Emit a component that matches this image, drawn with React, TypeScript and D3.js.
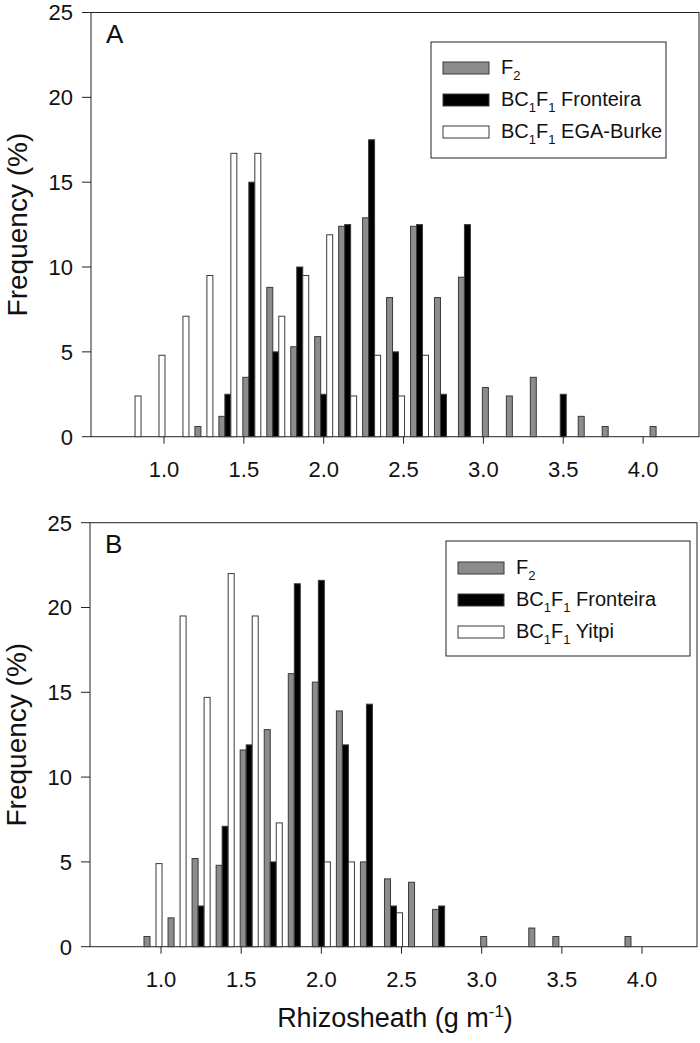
import React from "react";
import * as d3 from "d3";

// Bin centres (g m-1) — shared by both panels
const bins = [0.8, 0.95, 1.1, 1.25, 1.4, 1.55, 1.7, 1.85, 2.0, 2.15, 2.3, 2.45, 2.6, 2.75, 2.9, 3.05, 3.2, 3.35, 3.5, 3.65, 3.8, 3.95, 4.1];

// Panel A
const f2A = [0, 0, 0, 0.6, 1.2, 3.5, 8.8, 5.3, 5.9, 12.4, 12.9, 8.2, 12.4, 8.2, 9.4, 2.9, 2.4, 3.5, 0, 1.2, 0.6, 0, 0.6];
const fronteiraA = [0, 0, 0, 0, 2.5, 15, 5, 10, 2.5, 12.5, 17.5, 5, 12.5, 2.5, 12.5, 0, 0, 0, 2.5, 0, 0, 0, 0];
const egaBurkeA = [2.4, 4.8, 7.1, 9.5, 16.7, 16.7, 7.1, 9.5, 11.9, 2.4, 4.8, 2.4, 4.8, 0, 0, 0, 0, 0, 0, 0, 0, 0, 0];

// Panel B
const f2B = [0, 0.6, 1.7, 5.2, 4.8, 11.6, 12.8, 16.1, 15.6, 13.9, 5.0, 4.0, 3.8, 2.2, 0, 0.6, 0, 1.1, 0.6, 0, 0, 0.6, 0];
const fronteiraB = [0, 0, 0, 2.4, 7.1, 11.9, 5.0, 21.4, 21.6, 11.9, 14.3, 2.4, 0, 2.4, 0, 0, 0, 0, 0, 0, 0, 0, 0];
const yitpiB = [0, 4.9, 19.5, 14.7, 22.0, 19.5, 7.3, 0, 5.0, 5.0, 0, 2.0, 0, 0, 0, 0, 0, 0, 0, 0, 0, 0, 0];

const xTicks = [1.0, 1.5, 2.0, 2.5, 3.0, 3.5, 4.0];
const yTicks = [0, 5, 10, 15, 20, 25];

const FONT = "'Liberation Sans', Arial, Helvetica, sans-serif";
const GRAY = "#8c8c8c";
const STROKE = "#3a3a3a";
const BAR_W = 0.0375; // bar width in data units

type Series = { name: string; tail: string; values: number[]; fill: string };

function LegendLabel({ s }: { s: Series }) {
  if (s.name === "F2") {
    return (
      <>
        F<tspan dy="6" fontSize="13">2</tspan>
      </>
    );
  }
  return (
    <>
      BC<tspan dy="6" fontSize="13">1</tspan>
      <tspan dy="-6">F</tspan>
      <tspan dy="6" fontSize="13">1</tspan>
      <tspan dy="-6"> {s.tail}</tspan>
    </>
  );
}

function Panel(props: {
  left: number;
  right: number;
  top: number;
  bottom: number;
  domain: [number, number];
  series: Series[];
  letter: string;
  legend: { x: number; y: number; w: number; h: number; rows: number[]; pad: number; textX: number };
}) {
  const { left, right, top, bottom, domain, series, letter, legend } = props;
  const x = d3.scaleLinear().domain(domain).range([left, right]);
  const y = d3.scaleLinear().domain([0, 25]).range([bottom, top]);
  const bw = x(domain[0] + BAR_W) - x(domain[0]);
  const offsets = [-BAR_W, 0, BAR_W];
  return (
    <g>
      <rect x={left} y={top} width={right - left} height={bottom - top} fill="none" stroke="#222" strokeWidth={1} />
      {series.map((s, si) =>
        s.values.map((v, i) =>
          v > 0 ? (
            <rect
              key={`${si}-${i}`}
              x={x(bins[i] + offsets[si]) - bw / 2}
              y={y(v)}
              width={bw}
              height={y(0) - y(v)}
              fill={s.fill}
              stroke={STROKE}
              strokeWidth={1}
            />
          ) : null
        )
      )}
      {yTicks.map((t) => (
        <g key={`y${t}`}>
          <line x1={left - 9} x2={left} y1={y(t)} y2={y(t)} stroke="#222" strokeWidth={1} />
          <text x={left - 18} y={y(t)} dy="0.36em" textAnchor="end" fontSize={22} fontFamily={FONT} fill="#111">
            {t}
          </text>
        </g>
      ))}
      {xTicks.map((t) => (
        <g key={`x${t}`}>
          <line x1={x(t)} x2={x(t)} y1={bottom} y2={bottom + 7} stroke="#222" strokeWidth={1} />
          <text x={x(t)} y={bottom + 40} textAnchor="middle" fontSize={22} fontFamily={FONT} fill="#111">
            {d3.format(".1f")(t)}
          </text>
        </g>
      ))}
      <text x={left + 15} y={top + 30} fontSize={26} fontFamily={FONT} fill="#111">
        {letter}
      </text>
      <text
        transform={`translate(${left - 64},${(top + bottom) / 2}) rotate(-90)`}
        textAnchor="middle"
        fontSize={28}
        fontFamily={FONT}
        fill="#111"
      >
        Frequency (%)
      </text>
      <rect x={legend.x} y={legend.y} width={legend.w} height={legend.h} fill="#fff" stroke="#222" strokeWidth={1} />
      {series.map((s, si) => (
        <g key={`lg${si}`}>
          <rect
            x={legend.x + legend.pad}
            y={legend.y + legend.rows[si] - 6}
            width={46}
            height={12}
            fill={s.fill}
            stroke={STROKE}
            strokeWidth={1}
          />
          <text x={legend.textX} y={legend.y + legend.rows[si] + 6} fontSize={20} fontFamily={FONT} fill="#111">
            <LegendLabel s={s} />
          </text>
        </g>
      ))}
    </g>
  );
}

export default function App() {
  const seriesA: Series[] = [
    { name: "F2", tail: "", values: f2A, fill: GRAY },
    { name: "Fronteira", tail: "Fronteira", values: fronteiraA, fill: "#000" },
    { name: "EGA-Burke", tail: "EGA-Burke", values: egaBurkeA, fill: "#fff" },
  ];
  const seriesB: Series[] = [
    { name: "F2", tail: "", values: f2B, fill: GRAY },
    { name: "Fronteira", tail: "Fronteira", values: fronteiraB, fill: "#000" },
    { name: "Yitpi", tail: "Yitpi", values: yitpiB, fill: "#fff" },
  ];
  return (
    <svg width={700} height={1043} style={{ display: "block", position: "absolute", left: 0, top: 0 }}>
      <rect width={700} height={1043} fill="#fff" />
      <Panel
        left={91}
        right={699}
        top={12.5}
        bottom={436.7}
        domain={[0.543, 4.35]}
        series={seriesA}
        letter="A"
        legend={{ x: 431, y: 42, w: 235, h: 116, rows: [26, 58, 90], pad: 12, textX: 501 }}
      />
      <Panel
        left={90}
        right={697}
        top={522.7}
        bottom={946.7}
        domain={[0.557, 4.343]}
        series={seriesB}
        letter="B"
        legend={{ x: 446, y: 541, w: 244, h: 115, rows: [27, 59, 91], pad: 12, textX: 516 }}
      />
      <text x={395} y={1027} textAnchor="middle" fontSize={27} fontFamily={FONT} fill="#111">
        Rhizosheath (g m
        <tspan dy="-10" fontSize="17">-1</tspan>
        <tspan dy="10">)</tspan>
      </text>
    </svg>
  );
}
